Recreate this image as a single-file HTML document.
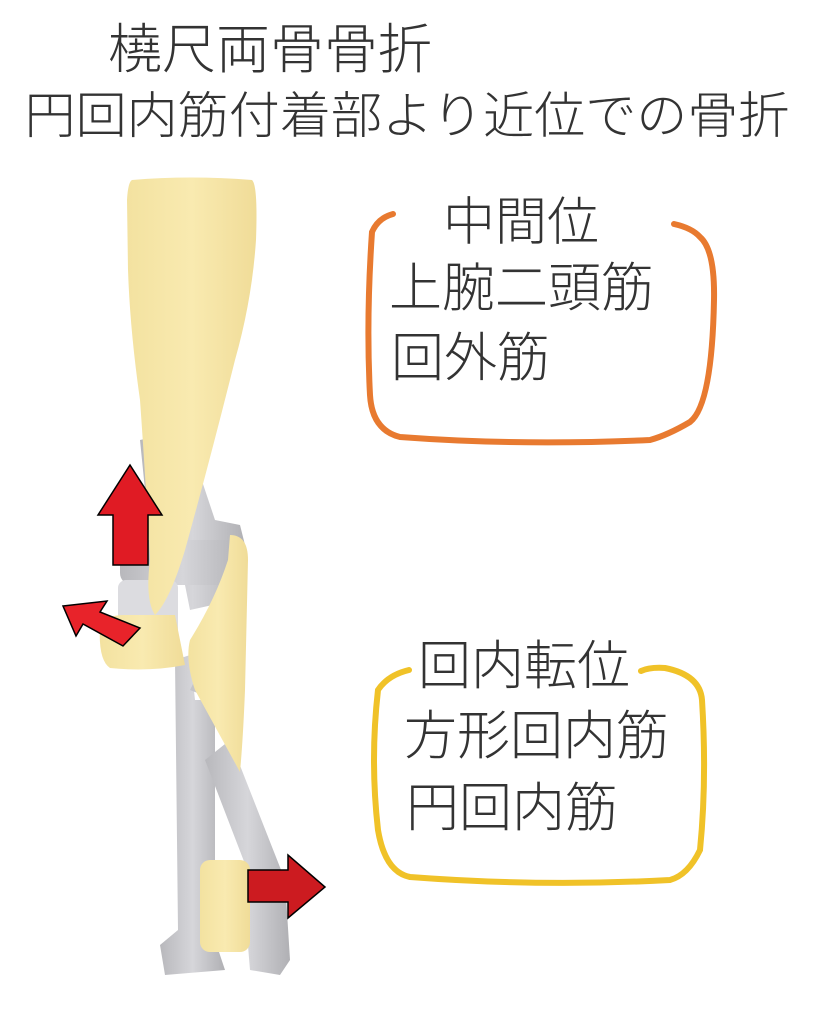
<!DOCTYPE html>
<html><head><meta charset="utf-8"><style>
html,body{margin:0;padding:0;background:#fff;}
svg{display:block;}
text{font-family:"Liberation Sans","Noto Sans CJK JP",sans-serif;fill:#333;font-weight:300;}
</style></head><body>
<svg width="839" height="1024" viewBox="0 0 839 1024" xmlns="http://www.w3.org/2000/svg">
<defs>
<linearGradient id="gy" x1="0" x2="1"><stop offset="0" stop-color="#f3e2a0"/><stop offset="0.5" stop-color="#f9eab0"/><stop offset="1" stop-color="#f0dc98"/></linearGradient>
<linearGradient id="gg" x1="0" x2="1"><stop offset="0" stop-color="#b8b8bc"/><stop offset="0.5" stop-color="#d6d6da"/><stop offset="1" stop-color="#b0b0b4"/></linearGradient>
</defs>
<text x="270" y="68" font-size="54" text-anchor="middle">橈尺両骨骨折</text>
<text x="407" y="133" font-size="50" text-anchor="middle" textLength="765" lengthAdjust="spacingAndGlyphs">円回内筋付着部より近位での骨折</text>

<path d="M140 440 L185 430 L215 520 L240 525 L245 545 L230 560 L235 600 L190 610 L180 560 L150 540 Z" fill="url(#gg)"/>
<rect x="120" y="540" width="125" height="45" rx="12" fill="url(#gg)"/>
<rect x="118" y="580" width="60" height="70" rx="8" fill="#dcdce0"/>
<path d="M175 660 L190 655 L195 700 L215 700 L215 940 L225 970 L165 975 L160 945 L178 930 Z" fill="url(#gg)"/>
<path d="M190 690 L200 670 L212 680 L215 700 Z" fill="#c4c4c8"/>
<path d="M205 760 L230 740 L285 880 L290 960 L280 975 L250 970 L245 910 L255 890 Z" fill="url(#gg)"/>
<path d="M100 625 Q105 615 125 615 L175 615 L185 665 Q150 672 110 668 Q98 660 100 625Z" fill="url(#gy)"/>
<rect x="200" y="860" width="50" height="92" rx="10" fill="url(#gy)"/>
<path d="M230 535 Q248 535 248 560 L245 690 Q243 740 240 772 L195 690 Q185 660 190 640 Q215 600 228 560 Z" fill="url(#gy)"/>
<path d="M132 180 Q190 175 252 180 Q258 185 256 240 Q252 300 235 360 Q210 460 185 550 Q170 600 155 615 Q145 600 150 560 Q145 470 140 400 Q130 330 128 270 L127 200 Q128 182 132 180 Z" fill="url(#gy)"/>
<path d="M113 565 L113 515 L98 515 L130 465 L162 515 L148 515 L148 565 Z" fill="#e01b24" stroke="#000" stroke-width="1.5"/>
<path d="M63 606 L107 601 L100 612 L140 628 L123 646 L83 624 L76 636 Z" fill="#e8232a" stroke="#000" stroke-width="1.5"/>
<path d="M248 870 L288 870 L288 855 L325 887 L288 918 L288 902 L248 902 Z" fill="#cc1b20" stroke="#000" stroke-width="1.5"/>

<path d="M393 214 Q378 218 372 232 Q366 320 370 395 Q372 430 400 437 Q520 446 650 440 Q668 435 690 422 Q712 405 714 300 Q715 250 700 237 Q692 228 674 224" fill="none" stroke="#e87a30" stroke-width="6" stroke-linecap="round"/>
<text x="443" y="240" font-size="52">中間位</text>
<text x="389" y="306" font-size="53">上腕二頭筋</text>
<text x="391" y="376" font-size="53">回外筋</text>

<path d="M409 670 Q388 675 378 690 Q370 760 378 830 Q385 872 410 877 Q540 887 670 880 Q688 875 700 850 Q707 780 702 700 Q700 675 665 668 Q650 667 641 671" fill="none" stroke="#f0c228" stroke-width="6" stroke-linecap="round"/>
<text x="418" y="684" font-size="53">回内転位</text>
<text x="404" y="754" font-size="53">方形回内筋</text>
<text x="406" y="826" font-size="53">円回内筋</text>
</svg>
</body></html>
